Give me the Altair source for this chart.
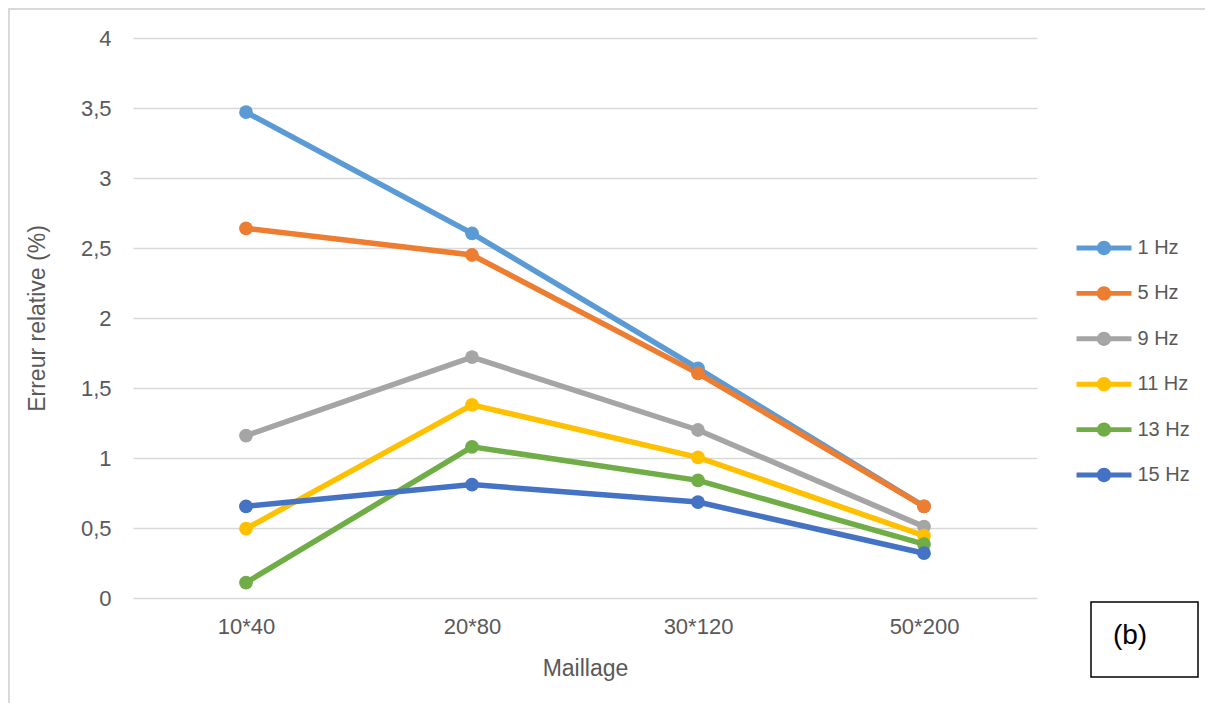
import altair as alt
import pandas as pd

maillage = ["10*40", "20*80", "30*120", "50*200"]
series = ["1 Hz", "5 Hz", "9 Hz", "11 Hz", "13 Hz", "15 Hz"]
colors = ["#5B9BD5", "#ED7D31", "#A5A5A5", "#FFC000", "#70AD47", "#4472C4"]

v_1hz = [3.47, 2.605, 1.64, 0.655]
v_5hz = [2.64, 2.45, 1.605, 0.655]
v_9hz = [1.16, 1.72, 1.20, 0.51]
v_11hz = [0.495, 1.38, 1.005, 0.445]
v_13hz = [0.11, 1.08, 0.84, 0.385]
v_15hz = [0.655, 0.81, 0.685, 0.32]

values = [v_1hz, v_5hz, v_9hz, v_11hz, v_13hz, v_15hz]
rows = []
for si, (s, vals) in enumerate(zip(series, values)):
    for m, v in zip(maillage, vals):
        rows.append({"Maillage": m, "Serie": s, "Valeur": v, "order": si})
df = pd.DataFrame(rows)

FONT = "Liberation Sans"
TXT = "#595959"

x_enc = alt.X("Maillage:N", sort=maillage,
              scale=alt.Scale(type="point", padding=0.5),
              axis=alt.Axis(title="Maillage", ticks=False, domain=False, grid=False,
                            labelAngle=0, labelPadding=18, labelFontSize=22,
                            labelColor=TXT, labelFont=FONT,
                            titleFontSize=23, titleColor=TXT, titleFont=FONT,
                            titleFontWeight="normal", titleY=70, titleBaseline="middle"))
y_enc = alt.Y("Valeur:Q", scale=alt.Scale(domain=[0, 4], nice=False),
              axis=alt.Axis(title="Erreur relative (%)", values=[0, 0.5, 1, 1.5, 2, 2.5, 3, 3.5, 4],
                            ticks=False, domain=False, grid=True, gridColor="#D9D9D9", gridWidth=1.5,
                            labelExpr="replace(toString(datum.value), '.', ',')",
                            labelPadding=22, labelFontSize=22, labelColor=TXT, labelFont=FONT,
                            titleFontSize=23, titleColor=TXT, titleFont=FONT,
                            titleFontWeight="normal", titleX=-96, titleY=280,
                            titleAngle=-90, titleAlign="center", titleBaseline="middle"))

color_scale = alt.Scale(domain=series, range=colors)
# stroke scale listed in reverse order so that it is not merged with the colour legend
stroke_scale = alt.Scale(domain=series[::-1], range=colors[::-1])

legend_path = ("M-2,-0.18 L2,-0.18 L2,0.18 L-2,0.18 Z "
               "M-0.52,0 A0.52,0.52 0 1,1 0.52,0 A0.52,0.52 0 1,1 -0.52,0 Z")

lines = alt.Chart(df).mark_line(strokeWidth=5.5).encode(
    x=x_enc, y=y_enc,
    stroke=alt.Stroke("Serie:N", scale=stroke_scale, legend=None),
    order=alt.Order("order:Q"),
)

points = alt.Chart(df).mark_point(filled=True, size=190, opacity=1).encode(
    x=x_enc, y=y_enc,
    color=alt.Color("Serie:N", scale=color_scale, sort=series,
                    legend=alt.Legend(title=None, orient="none", legendX=957, legendY=196,
                                      symbolType=legend_path, symbolSize=756,
                                      symbolStrokeWidth=0, symbolOpacity=1,
                                      rowPadding=21.4, padding=0, labelOffset=19.5,
                                      labelFontSize=20, labelColor=TXT, labelFont=FONT,
                                      labelLimit=200)),
)

frame = alt.Chart(alt.Data(values=[{}])).mark_rect(
    fill="transparent", stroke="#D9D9D9", strokeWidth=2
).encode(x=alt.value(-124), x2=alt.value(1300), y=alt.value(-29), y2=alt.value(800))

box = alt.Chart(alt.Data(values=[{}])).mark_rect(
    fill="white", stroke="black", strokeWidth=1.5
).encode(x=alt.value(958), x2=alt.value(1065), y=alt.value(564), y2=alt.value(639))

box_text = alt.Chart(alt.Data(values=[{"t": "(b)"}])).mark_text(
    font=FONT, fontSize=28, color="black", align="center", baseline="middle"
).encode(text="t:N", x=alt.value(997), y=alt.value(598))

chart = alt.layer(frame, lines, points, box, box_text).properties(
    width=904, height=560,
    autosize=alt.AutoSizeParams(type="none"),
    padding={"left": 125, "top": 30, "right": 168, "bottom": 105},
).configure_view(stroke=None)

chart.save("out.html", embed_options={"renderer": "svg", "actions": False})
